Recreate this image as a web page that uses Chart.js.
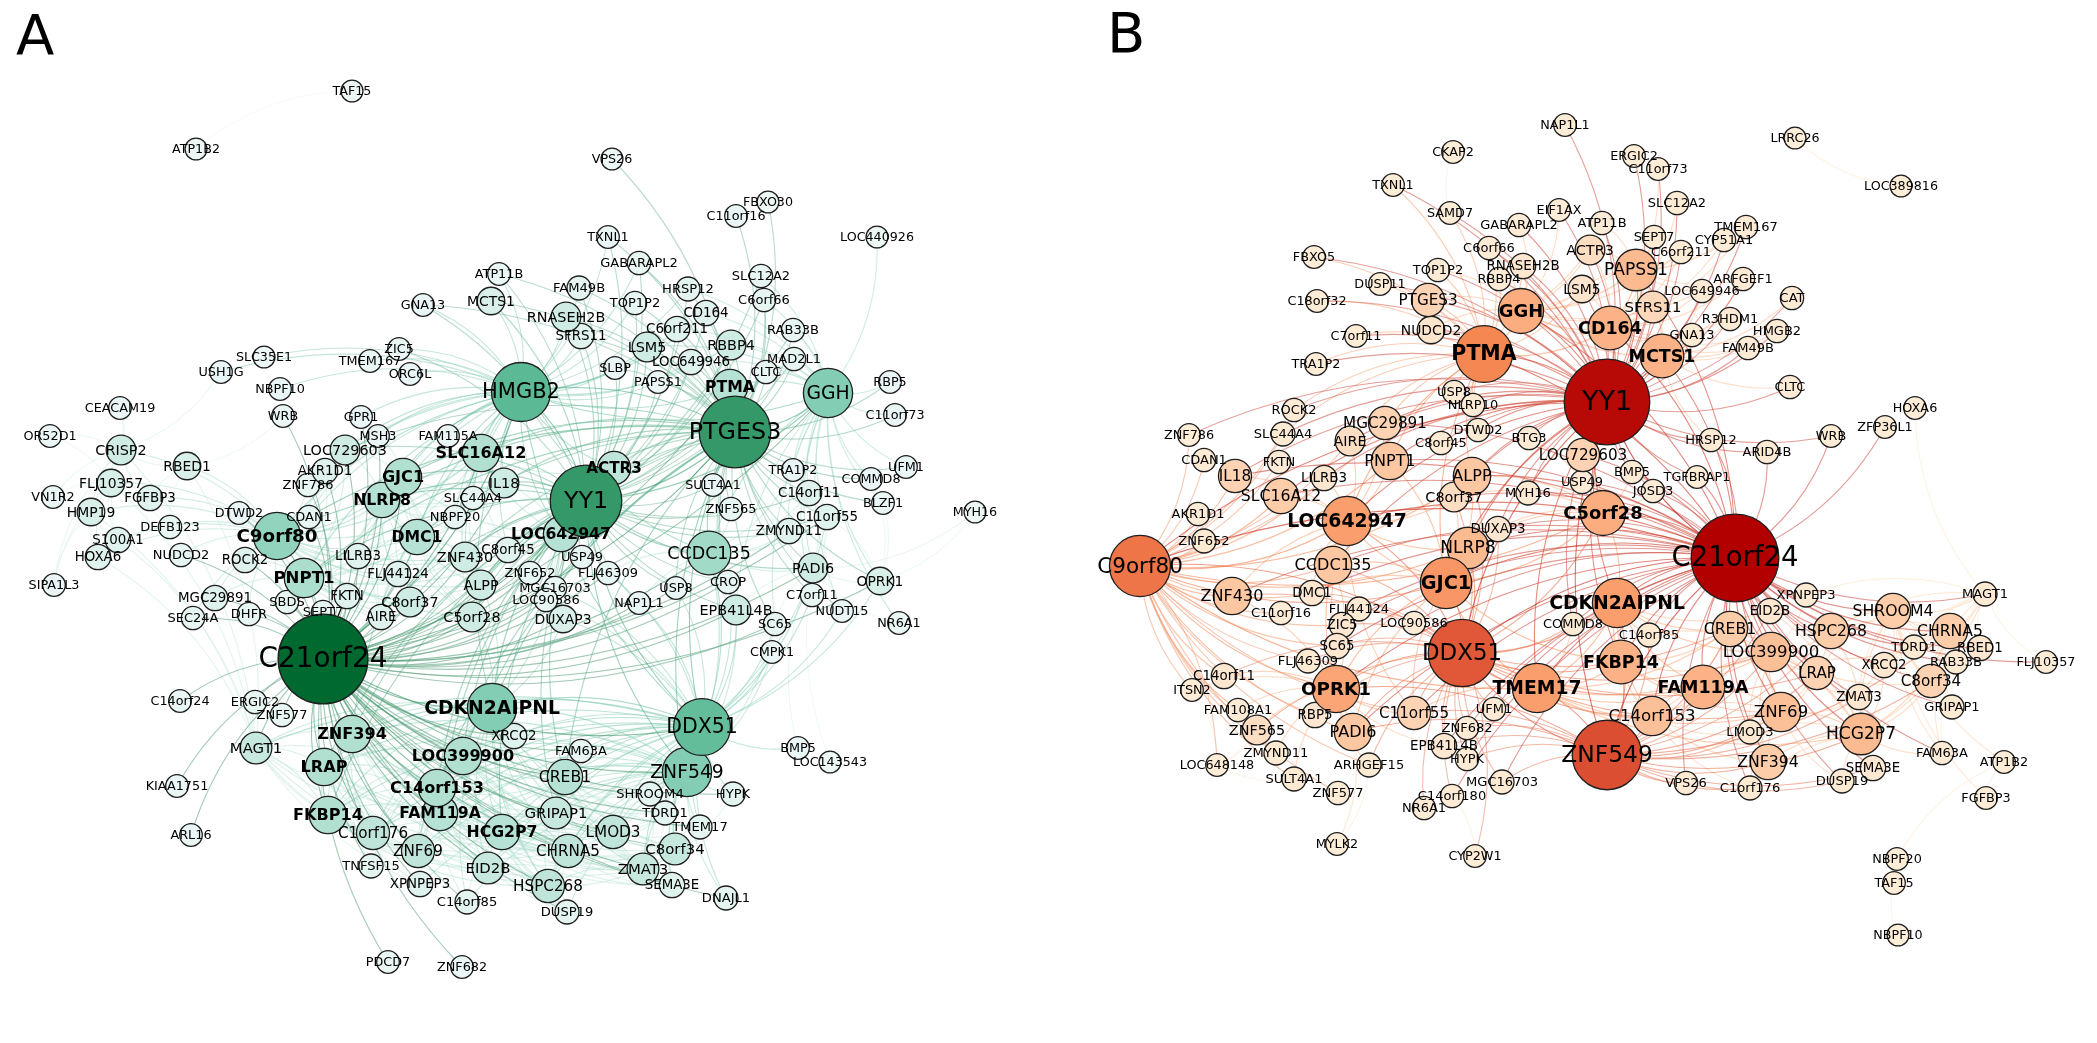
<!DOCTYPE html>
<html>
<head>
<meta charset="utf-8">
<title>Co-expression networks A / B</title>
<script src="https://cdn.jsdelivr.net/npm/chart.js@4.4.1/dist/chart.umd.min.js"></script>
<style>
  html, body { margin: 0; padding: 0; background: #fff; }
  #wrap { position: relative; width: 2097px; height: 1043px; }
</style>
</head>
<body>
<div id="wrap"><canvas id="net"></canvas></div>
<script>
// layout rows: [gene, x, y, degree]  (x/y in layout units of the figure)
const nodesA = [
  ['TAF15',352,91,1], ['ATP1B2',196,149,1], ['ATP11B',499,274,2], ['MCTS1',491,301,9],
  ['GNA13',423,305,2], ['ZIC5',399,349,2], ['TMEM167',370,361,2], ['ORC6L',410,374,2],
  ['SLC35E1',264,357,1], ['USH1G',221,372,2], ['NBPF10',280,389,2], ['VPS26',612,159,1],
  ['FBXO30',768,202,1], ['C11orf16',736,216,2], ['LOC440926',877,237,1], ['TXNL1',608,237,2],
  ['GABARAPL2',639,263,3], ['SLC12A2',761,276,3], ['FAM49B',579,288,4], ['HRSP12',688,289,4],
  ['C6orf66',764,300,3], ['TOP1P2',635,303,3], ['CD164',706,313,6], ['RNASEH2B',566,317,12],
  ['C6orf211',677,329,6], ['RAB33B',793,330,3], ['SFRS11',581,336,6], ['LSM5',647,347,12],
  ['RBBP4',731,345,12], ['MAD2L1',794,359,3], ['LOC649946',691,362,6], ['SLBP',615,368,2],
  ['CLTC',766,372,3], ['PAPSS1',658,382,2], ['PTMA',730,387,20], ['GGH',828,393,40],
  ['RBP5',890,382,2], ['C11orf73',895,415,2], ['PTGES3',735,432,72], ['HMGB2',521,392,54],
  ['ACTR3',614,468,17], ['YY1',586,501,72], ['TRA1P2',793,470,2], ['UFM1',906,467,2],
  ['COMMD8',871,479,2], ['SULT4A1',713,485,2], ['C14orf11',809,493,6], ['BLZF1',883,503,2],
  ['MYH16',975,512,1], ['ZNF565',731,509,3], ['C11orf55',827,517,6], ['ZMYND11',789,531,6],
  ['LOC642947',561,534,20], ['CCDC135',709,553,32], ['C8orf45',508,550,6], ['USP49',582,557,3],
  ['ZNF652',530,573,3], ['FLJ46309',608,573,3], ['PADI6',813,568,12], ['OPRK1',880,581,9],
  ['CROP',728,582,3], ['USP8',676,588,2], ['MGC16703',555,588,3], ['C7orf11',812,595,3],
  ['LOC90586',546,600,3], ['NAP1L1',639,603,2], ['EPB41L4B',736,610,12], ['NUDT15',842,611,2],
  ['DUXAP3',563,619,9], ['SC65',775,624,3], ['NR6A1',899,623,2], ['CMPK1',772,652,2],
  ['DDX51',702,727,51], ['XRCC2',514,736,6], ['FAM63A',581,751,3], ['BMP5',798,748,2],
  ['LOC143543',830,762,1], ['ZNF549',687,772,40], ['CREB1',565,777,20], ['CEACAM19',120,408,2],
  ['WRB',283,416,2], ['GPR1',361,417,2], ['OR52D1',50,436,2], ['MSH3',378,436,2],
  ['FAM115A',448,436,2], ['CRISP2',121,450,12], ['LOC729603',345,450,12], ['SLC16A12',481,453,23],
  ['RBED1',187,466,9], ['AKR1D1',325,471,6], ['GJC1',403,477,23], ['FLJ10357',111,483,9],
  ['IL18',504,483,12], ['ZNF786',308,485,3], ['VN1R2',53,497,2], ['FGFBP3',150,498,6],
  ['NLRP8',382,500,20], ['SLC44A4',473,498,3], ['HMP19',91,512,9], ['DTWD2',239,513,2],
  ['CDAN1',309,517,3], ['NBPF20',455,517,3], ['DEFB123',170,527,3], ['C9orf80',277,536,37],
  ['DMC1',417,537,20], ['S100A1',118,540,6], ['NUDCD2',181,555,3], ['ROCK2',245,560,6],
  ['LILRB3',358,556,6], ['ZNF430',465,557,12], ['HOXA6',98,557,6], ['PNPT1',304,578,26],
  ['FLJ44124',398,574,6], ['SIPA1L3',54,585,2], ['ALPP',481,585,12], ['FKTN',347,596,6],
  ['MGC29891',215,598,6], ['SBDS',287,602,3], ['C8orf37',410,602,12], ['SEPT7',323,612,3],
  ['DHFR',249,614,3], ['AIRE',381,617,6], ['C5orf28',472,617,12], ['SEC24A',193,618,3],
  ['C21orf24',323,659,98], ['C14orf24',180,701,2], ['ERGIC2',255,702,3], ['ZNF577',282,715,3],
  ['CDKN2AIPNL',492,708,40], ['ZNF394',352,734,23], ['MAGT1',256,748,15], ['LOC399900',463,756,23],
  ['LRAP',324,767,23], ['KIAA1751',177,786,2], ['C14orf153',437,788,23], ['SHROOM4',650,794,4],
  ['HYPK',733,794,4], ['FKBP14',328,815,23], ['FAM119A',440,813,20], ['GRIPAP1',556,813,15],
  ['TDRD1',665,813,4], ['C1orf176',373,833,17], ['HCG2P7',502,832,20], ['LMOD3',613,832,17],
  ['TMEM17',700,827,4], ['ARL16',191,835,2], ['C8orf34',675,849,15], ['CHRNA5',568,851,17],
  ['ZNF69',418,851,17], ['TNFSF15',371,866,4], ['EID2B',488,868,15], ['ZMAT3',643,869,15],
  ['XPNPEP3',420,884,6], ['HSPC268',548,886,17], ['SEMA3E',672,885,6], ['DNAJL1',726,898,4],
  ['C14orf85',467,902,4], ['DUSP19',567,912,4], ['PDCD7',388,962,2], ['ZNF682',462,967,2]
];

const nodesB = [
  ['NAP1L1',1565,125,2], ['CKAP2',1453,152,2], ['TXNL1',1393,185,2], ['SAMD7',1450,213,2],
  ['EIF1AX',1559,210,2], ['GABARAPL2',1519,225,3], ['ATP11B',1602,223,3], ['C6orf66',1489,248,3],
  ['ACTR3',1590,250,12], ['FBXO5',1314,257,2], ['RNASEH2B',1523,266,6], ['TOP1P2',1438,270,3],
  ['RBBP4',1499,279,3], ['DUSP11',1380,284,2], ['LSM5',1582,289,9], ['C18orf32',1317,301,2],
  ['PTGES3',1428,300,17], ['GGH',1521,311,34], ['CD164',1610,328,32], ['NUDCD2',1431,330,9],
  ['C7orf11',1356,336,2], ['PTMA',1484,354,51], ['TRA1P2',1316,364,2], ['YY1',1607,402,92],
  ['USP8',1454,392,3], ['NLRP10',1473,405,3], ['ROCK2',1294,410,3], ['MGC29891',1385,423,17],
  ['DTWD2',1478,430,3], ['ZNF786',1189,435,2], ['SLC44A4',1283,434,4], ['AIRE',1350,441,12],
  ['BTG3',1529,438,3], ['C8orf45',1441,443,3], ['LRRC26',1795,138,1], ['ERGIC2',1634,156,2],
  ['C11orf73',1658,169,2], ['LOC389816',1901,186,1], ['SLC12A2',1677,203,3], ['TMEM167',1746,227,3],
  ['SEPT7',1654,237,3], ['CYP51A1',1724,240,3], ['C6orf211',1681,252,3], ['PAPSS1',1636,270,29],
  ['ARFGEF1',1743,279,3], ['LOC649946',1702,291,3], ['CAT',1792,298,3], ['SFRS11',1653,307,15],
  ['R3HDM1',1730,319,3], ['HMGB2',1777,331,3], ['GNA13',1692,335,3], ['FAM49B',1748,348,3],
  ['MCTS1',1662,356,32], ['CLTC',1790,387,3], ['HOXA6',1915,408,2], ['ZFP36L1',1885,427,2],
  ['WRB',1831,436,2], ['HRSP12',1711,440,3], ['CDAN1',1204,460,3], ['FKTN',1279,462,3],
  ['PNPT1',1390,461,23], ['LOC729603',1583,455,17], ['IL18',1235,476,17], ['ALPP',1472,476,23],
  ['LILRB3',1324,478,6], ['USP49',1582,482,3], ['MYH16',1528,493,4], ['SLC16A12',1281,496,20],
  ['C8orf37',1454,497,12], ['C5orf28',1603,513,34], ['AKR1D1',1198,514,3], ['LOC642947',1347,521,40],
  ['DUXAP3',1498,529,6], ['ZNF652',1204,541,4], ['NLRP8',1468,548,29], ['C9orf80',1140,566,57],
  ['CCDC135',1333,565,23], ['GJC1',1446,583,43], ['ZNF430',1232,596,23], ['DMC1',1312,593,6],
  ['CDKN2AIPNL',1617,603,40], ['C11orf16',1281,613,3], ['FLJ44124',1359,609,4], ['ZIC5',1342,625,6],
  ['LOC90586',1414,623,3], ['COMMD8',1573,624,3], ['DDX51',1462,653,66], ['SC65',1337,646,6],
  ['FKBP14',1621,662,32], ['FLJ46309',1308,661,4], ['C14orf11',1224,676,6], ['ITSN2',1192,690,2],
  ['OPRK1',1336,689,37], ['TMEM17',1537,688,40], ['FAM108A1',1238,710,3], ['UFM1',1494,709,3],
  ['RBP5',1315,715,6], ['C11orf55',1414,713,17], ['ZNF682',1467,728,3], ['ZNF565',1257,730,12],
  ['PADI6',1353,732,23], ['ZNF549',1607,755,69], ['ARID4B',1767,452,3], ['BMP5',1632,472,3],
  ['TGFBRAP1',1697,477,2], ['JOSD3',1653,491,3], ['C21orf24',1735,558,95], ['XPNPEP3',1806,595,4],
  ['MAGT1',1985,594,4], ['EID2B',1770,611,6], ['SHROOM4',1893,611,20], ['CREB1',1730,629,20],
  ['HSPC268',1831,631,20], ['CHRNA5',1950,631,20], ['C14orf85',1649,635,4], ['TDRD1',1914,647,4],
  ['RBED1',1980,648,6], ['LOC399900',1771,652,26], ['FLJ10357',2046,662,2], ['RAB33B',1956,662,4],
  ['XRCC2',1884,665,6], ['LRAP',1817,673,17], ['C8orf34',1931,681,17], ['FAM119A',1703,687,32],
  ['ZMAT3',1859,697,6], ['GRIPAP1',1952,707,4], ['C14orf153',1652,716,26], ['ZNF69',1781,712,26],
  ['LMOD3',1750,732,4], ['HCG2P7',1861,734,29], ['EPB41L4B',1444,746,6], ['ZMYND11',1276,753,4],
  ['HYPK',1467,759,3], ['LOC648148',1217,765,2], ['ARHGEF15',1369,765,4], ['SULT4A1',1294,779,4],
  ['MGC16703',1502,782,4], ['ZNF577',1338,793,3], ['C14orf180',1452,796,3], ['NR6A1',1424,808,3],
  ['MYLK2',1337,844,2], ['CYP2W1',1475,856,2], ['FAM63A',1942,753,3], ['ZNF394',1768,762,20],
  ['ATP1B2',2004,762,2], ['SEMA3E',1873,768,6], ['DUSP19',1842,781,4], ['VPS26',1686,783,3],
  ['C1orf176',1750,788,4], ['FGFBP3',1986,798,2], ['NBPF20',1897,859,2], ['TAF15',1894,883,2],
  ['NBPF10',1898,935,1]
];

// edges: [gene, neighbours]
const edgesA = [
  ['TAF15','ATP1B2'],
  ['C21orf24','ZNF394 LRAP MAGT1 FKBP14 C1orf176 ZNF69 TNFSF15 XPNPEP3 C14orf153 FAM119A LOC399900 CDKN2AIPNL HCG2P7 EID2B C14orf85 CREB1 GRIPAP1 CHRNA5 HSPC268 DUSP19 LMOD3 ZMAT3 SEMA3E C8orf34 TDRD1 SHROOM4 ZNF549 DDX51 TMEM17 HYPK DNAJL1 FAM63A XRCC2 PDCD7 ZNF682 KIAA1751 ARL16 C14orf24 ERGIC2 ZNF577 C9orf80 PNPT1 ROCK2 MGC29891 SEC24A DHFR SBDS SEPT7 FKTN AIRE LILRB3 CDAN1 ZNF786 AKR1D1 LOC729603 NLRP8 GJC1 DMC1 FLJ44124 C8orf37 C5orf28 ALPP ZNF430 DUXAP3 LOC90586 MGC16703 ZNF652 C8orf45 LOC642947 YY1 PTGES3 HMGB2 IL18 SLC16A12 CCDC135 EPB41L4B NAP1L1 USP49 FLJ46309 ACTR3 GGH PTMA SC65 CROP USP8 DTWD2 NUDCD2 WRB GPR1 MSH3 OPRK1 PADI6 C11orf55 ZMYND11'],
  ['YY1','PTGES3 HMGB2 ACTR3 PTMA GGH LSM5 RBBP4 RNASEH2B CD164 C6orf211 LOC649946 SFRS11 PAPSS1 SLBP TOP1P2 FAM49B HRSP12 GABARAPL2 MCTS1 ATP11B TXNL1 C6orf66 SLC12A2 CLTC MAD2L1 RAB33B LOC642947 SLC16A12 IL18 GJC1 NLRP8 DMC1 C8orf45 ZNF652 USP49 FLJ46309 MGC16703 LOC90586 DUXAP3 CCDC135 DDX51 ZNF549 CDKN2AIPNL LOC399900 CREB1 C14orf153 FAM119A FKBP14 LRAP ZNF394 HCG2P7 GRIPAP1 C9orf80 PNPT1 LOC729603 ALPP C5orf28 ZNF430 C8orf37 AIRE EPB41L4B USP8 CROP NAP1L1 SULT4A1 ZNF565 PADI6 C14orf11 ZMYND11 C11orf55 GNA13 ZIC5'],
  ['PTGES3','PTMA GGH RBBP4 LSM5 CD164 C6orf211 LOC649946 HRSP12 C6orf66 SLC12A2 RAB33B MAD2L1 CLTC PAPSS1 SLBP TOP1P2 GABARAPL2 RNASEH2B SFRS11 FAM49B HMGB2 ACTR3 C11orf16 VPS26 FBXO30 TRA1P2 UFM1 COMMD8 C14orf11 C11orf55 ZMYND11 BLZF1 SULT4A1 ZNF565 CCDC135 PADI6 C7orf11 EPB41L4B SC65 CROP USP8 NUDT15 OPRK1 C11orf73 RBP5 DDX51 ZNF549 CDKN2AIPNL LOC642947 SLC16A12 IL18 GJC1 NLRP8 DMC1 C9orf80 PNPT1 LOC729603 ZNF430 ALPP C5orf28 MCTS1 ATP11B TXNL1 GNA13 CREB1 LOC399900 C14orf153'],
  ['HMGB2','RNASEH2B SFRS11 FAM49B LSM5 TOP1P2 GABARAPL2 TXNL1 MCTS1 ATP11B GNA13 TMEM167 ZIC5 ORC6L SLC35E1 NBPF10 USH1G SLC16A12 GJC1 NLRP8 LOC729603 AKR1D1 MSH3 GPR1 FAM115A IL18 SLC44A4 NBPF20 ZNF430 DMC1 C9orf80 PNPT1 LILRB3 ZNF786 CDAN1 C8orf45 LOC642947 ACTR3 PTMA RBBP4 CD164 C6orf211 LOC649946 SLBP PAPSS1 HRSP12 GGH CCDC135 DDX51 CDKN2AIPNL ZNF394'],
  ['DDX51','ZNF549 CDKN2AIPNL CCDC135 EPB41L4B SC65 CMPK1 CROP USP8 NAP1L1 FLJ46309 DUXAP3 LOC90586 MGC16703 XRCC2 FAM63A CREB1 LOC399900 C14orf153 FAM119A HCG2P7 GRIPAP1 SHROOM4 TDRD1 TMEM17 HYPK C8orf34 LMOD3 CHRNA5 ZMAT3 HSPC268 SEMA3E DNAJL1 ZNF394 LRAP FKBP14 MAGT1 C1orf176 ZNF69 EID2B PADI6 C7orf11 NUDT15 OPRK1 BMP5 C11orf55'],
  ['ZNF549','CDKN2AIPNL CREB1 LOC399900 C14orf153 FAM119A HCG2P7 GRIPAP1 SHROOM4 TDRD1 TMEM17 HYPK C8orf34 LMOD3 CHRNA5 ZMAT3 HSPC268 SEMA3E DNAJL1 DUSP19 EID2B C14orf85 ZNF69 XPNPEP3 C1orf176 LRAP ZNF394 FAM63A XRCC2 CCDC135 EPB41L4B SC65 CMPK1'],
  ['CDKN2AIPNL','ZNF394 LRAP MAGT1 FKBP14 C1orf176 ZNF69 LOC399900 C14orf153 FAM119A HCG2P7 CREB1 GRIPAP1 CHRNA5 HSPC268 LMOD3 EID2B XRCC2 FAM63A XPNPEP3 TNFSF15 C14orf85 DUSP19 ZMAT3 C8orf34 LOC642947 DUXAP3 C5orf28 ALPP'],
  ['GGH','PTMA RBBP4 CD164 C6orf211 LOC649946 CLTC MAD2L1 RAB33B C6orf66 SLC12A2 RBP5 C11orf73 LOC440926 UFM1 COMMD8 BLZF1 C11orf55 C14orf11 PADI6 OPRK1 NR6A1 NUDT15 C7orf11 ZMYND11 TRA1P2 CCDC135 EPB41L4B SC65 HRSP12 LSM5'],
  ['LOC399900','C14orf153 FAM119A HCG2P7 CREB1 GRIPAP1 CHRNA5 HSPC268 LMOD3 ZMAT3 C8orf34 EID2B ZNF69 C1orf176 FKBP14 LRAP ZNF394 SHROOM4 TDRD1 SEMA3E DUSP19'],
  ['C14orf153','FAM119A HCG2P7 CREB1 GRIPAP1 CHRNA5 HSPC268 LMOD3 ZMAT3 C8orf34 EID2B ZNF69 C1orf176 FKBP14 LRAP ZNF394 MAGT1 XPNPEP3 C14orf85'],
  ['FAM119A','HCG2P7 CREB1 GRIPAP1 CHRNA5 HSPC268 LMOD3 ZMAT3 C8orf34 EID2B ZNF69 C1orf176 FKBP14 LRAP ZNF394 SEMA3E DUSP19'],
  ['HCG2P7','CREB1 GRIPAP1 CHRNA5 HSPC268 LMOD3 ZMAT3 C8orf34 EID2B ZNF69 C1orf176 TDRD1 SHROOM4 SEMA3E DUSP19 C14orf85'],
  ['CREB1','GRIPAP1 CHRNA5 HSPC268 LMOD3 ZMAT3 C8orf34 TDRD1 SHROOM4 TMEM17 SEMA3E'],
  ['ZNF394','LRAP FKBP14 MAGT1 C1orf176 ZNF69 TNFSF15 EID2B CHRNA5 HSPC268 LMOD3 GRIPAP1'],
  ['LRAP','FKBP14 MAGT1 C1orf176 ZNF69 XPNPEP3 EID2B HSPC268 CHRNA5 GRIPAP1 LMOD3'],
  ['FKBP14','C1orf176 ZNF69 MAGT1 EID2B HSPC268 CHRNA5 ZMAT3 C8orf34'],
  ['CHRNA5','HSPC268 LMOD3 ZMAT3 C8orf34 GRIPAP1 SEMA3E DUSP19 EID2B TDRD1 SHROOM4'],
  ['LMOD3','ZMAT3 C8orf34 HSPC268 GRIPAP1 SHROOM4 TDRD1 TMEM17 SEMA3E'],
  ['ZMAT3','C8orf34 SEMA3E HSPC268 GRIPAP1 TDRD1 SHROOM4 TMEM17 HYPK'],
  ['HSPC268','EID2B GRIPAP1 ZNF69 C8orf34 DUSP19'],
  ['MAGT1','CRISP2 FLJ10357 HMP19 RBED1 S100A1 HOXA6 C1orf176 ZNF69 C14orf85 CHRNA5 HSPC268 GRIPAP1'],
  ['C9orf80','PNPT1 NLRP8 GJC1 DMC1 LOC729603 AKR1D1 ZNF786 CDAN1 DTWD2 ROCK2 LILRB3 FLJ44124 FKTN MGC29891 SBDS DHFR SEC24A NUDCD2 DEFB123 S100A1 HOXA6 HMP19 FGFBP3 RBED1 CRISP2 FLJ10357 ZNF430 C8orf37 AIRE ALPP C5orf28 IL18 SLC16A12 LOC642947'],
  ['PNPT1','NLRP8 GJC1 DMC1 LOC729603 AKR1D1 LILRB3 FLJ44124 FKTN C8orf37 AIRE ZNF430 ALPP C5orf28 SLC16A12 IL18 LOC642947 ROCK2 MGC29891'],
  ['NLRP8','GJC1 DMC1 LOC729603 SLC16A12 IL18 ZNF430 ALPP C8orf37 AIRE FLJ44124 LILRB3 C5orf28 LOC642947 SLC44A4 NBPF20'],
  ['GJC1','DMC1 SLC16A12 IL18 LOC729603 ZNF430 ALPP C8orf37 AIRE C5orf28 LOC642947 FAM115A MSH3'],
  ['DMC1','SLC16A12 IL18 ZNF430 ALPP C8orf37 AIRE C5orf28 LOC642947 FLJ44124 LILRB3'],
  ['SLC16A12','IL18 ZNF430 ALPP LOC642947 C8orf45 C5orf28 ACTR3'],
  ['LOC642947','IL18 ZNF430 ALPP C5orf28 C8orf45 ZNF652 USP49 DUXAP3 MGC16703 LOC90586 ACTR3'],
  ['CCDC135','EPB41L4B SC65 CROP USP8 ZNF565 SULT4A1 PADI6 C14orf11 ZMYND11 C11orf55 NAP1L1 FLJ46309 TRA1P2'],
  ['PADI6','OPRK1 C11orf55 C14orf11 ZMYND11 C7orf11 NUDT15 SC65 EPB41L4B MYH16 NR6A1 BMP5'],
  ['OPRK1','MYH16 NR6A1 NUDT15 C11orf55 COMMD8 BLZF1'],
  ['C11orf55','C14orf11 ZMYND11 LOC143543 NUDT15'],
  ['CRISP2','CEACAM19 OR52D1 FLJ10357 VN1R2 HMP19 RBED1 FGFBP3 DEFB123 S100A1 HOXA6 SIPA1L3 USH1G'],
  ['FLJ10357','VN1R2 HMP19 HOXA6 S100A1 SIPA1L3 FGFBP3 OR52D1 CEACAM19'],
  ['HMP19','S100A1 HOXA6 SIPA1L3 VN1R2'],
  ['RBED1','FGFBP3 DEFB123 WRB']
];

const edgesB = [
  ['LRRC26','LOC389816'], ['TAF15','NBPF10 NBPF20'], ['ATP1B2','NBPF20 FGFBP3'],
  ['CKAP2','SAMD7'], ['MYLK2','ARHGEF15 PADI6'], ['CYP2W1','C14orf180 DDX51'], ['HOXA6','ZFP36L1 MAGT1'],
  ['LOC648148','ZNF565 SULT4A1 C9orf80 ITSN2'],
  ['YY1','PTMA GGH CD164 MCTS1 PAPSS1 SFRS11 LSM5 ACTR3 RNASEH2B RBBP4 TOP1P2 C6orf66 GABARAPL2 ATP11B EIF1AX NAP1L1 SAMD7 TXNL1 FBXO5 DUSP11 C18orf32 C7orf11 TRA1P2 PTGES3 NUDCD2 USP8 NLRP10 DTWD2 BTG3 C8orf45 MGC29891 AIRE PNPT1 ALPP C8orf37 LOC729603 USP49 MYH16 DUXAP3 NLRP8 GJC1 LOC642947 SLC16A12 IL18 C5orf28 DDX51 C21orf24 CDKN2AIPNL ERGIC2 C11orf73 SLC12A2 SEPT7 C6orf211 CYP51A1 TMEM167 ARFGEF1 LOC649946 R3HDM1 GNA13 FAM49B HMGB2 CAT CLTC WRB HRSP12 ARID4B JOSD3 BMP5 TGFBRAP1 COMMD8 FKBP14 TMEM17 ZNF549 C9orf80 ROCK2 SLC44A4 CCDC135 LILRB3 ZNF786'],
  ['C21orf24','CDKN2AIPNL FKBP14 C14orf85 CREB1 EID2B XPNPEP3 LOC399900 FAM119A C14orf153 ZNF69 LRAP HSPC268 SHROOM4 CHRNA5 MAGT1 TDRD1 RBED1 XRCC2 RAB33B C8orf34 ZMAT3 GRIPAP1 HCG2P7 LMOD3 ZNF394 C1orf176 DUSP19 SEMA3E FAM63A VPS26 ZNF549 DDX51 TMEM17 GJC1 NLRP8 C5orf28 BMP5 JOSD3 TGFBRAP1 ARID4B HRSP12 WRB ZFP36L1 USP49 LOC729603 MYH16 DUXAP3 ALPP LOC642947 CCDC135 C9orf80 OPRK1 COMMD8 ZNF430 SLC16A12 PNPT1 IL18 MGC29891 C8orf37 LOC90586 FLJ44124 DMC1 ZIC5 SC65 PADI6 C11orf55 UFM1 MGC16703 ZNF682 EPB41L4B HYPK C14orf180 CD164 MCTS1 PAPSS1 GGH PTMA FLJ10357'],
  ['DDX51','GJC1 NLRP8 CDKN2AIPNL FKBP14 TMEM17 ZNF549 C14orf153 FAM119A OPRK1 C11orf55 PADI6 UFM1 ZNF682 EPB41L4B HYPK MGC16703 C14orf180 NR6A1 ARHGEF15 LOC90586 FLJ44124 ZIC5 SC65 DMC1 CCDC135 LOC642947 ALPP C8orf37 DUXAP3 C9orf80 ZNF430 RBP5 ZNF565 FLJ46309 C14orf11 COMMD8 C5orf28 LOC399900 CREB1 ZNF69 LRAP'],
  ['ZNF549','TMEM17 FKBP14 C14orf153 FAM119A CDKN2AIPNL LOC399900 CREB1 ZNF69 LRAP ZNF394 LMOD3 C1orf176 HCG2P7 HSPC268 CHRNA5 C8orf34 ZMAT3 DUSP19 SEMA3E VPS26 TNFSF15 MGC16703 HYPK C11orf55 PADI6 OPRK1 EPB41L4B ZNF682 C14orf85 EID2B'],
  ['C9orf80','ZNF786 CDAN1 AKR1D1 ZNF652 IL18 SLC16A12 ZNF430 C14orf11 ITSN2 FAM108A1 ZNF565 SULT4A1 ZMYND11 OPRK1 RBP5 PADI6 C11orf16 DMC1 CCDC135 LOC642947 FKTN SLC44A4 ROCK2 LILRB3 MGC29891 AIRE PNPT1 ALPP GJC1 NLRP8 DDX51 FLJ46309 SC65 ZIC5 C11orf55 ZNF577 ARHGEF15 TMEM17 C5orf28'],
  ['PTMA','GGH PTGES3 NUDCD2 TOP1P2 RBBP4 C6orf66 RNASEH2B LSM5 DUSP11 C18orf32 FBXO5 C7orf11 TRA1P2 USP8 NLRP10 MGC29891 DTWD2 ROCK2 SLC44A4 AIRE PNPT1 LOC642947 ALPP GJC1 CD164 SAMD7 TXNL1'],
  ['LOC642947','CCDC135 SLC16A12 IL18 ZNF430 PNPT1 AIRE LILRB3 ALPP NLRP8 GJC1 DMC1 C8orf37 MGC29891 OPRK1 PADI6 C11orf55'],
  ['GJC1','NLRP8 ALPP C8orf37 PNPT1 CCDC135 DMC1 OPRK1 C11orf55 PADI6 TMEM17 FKBP14 C5orf28'],
  ['OPRK1','PADI6 ZNF565 C11orf55 RBP5 C14orf11 ZNF430 CCDC135 FAM108A1 ITSN2 ZMYND11 SULT4A1 ARHGEF15 EPB41L4B'],
  ['TMEM17','FKBP14 FAM119A C14orf153 CDKN2AIPNL COMMD8 UFM1 C11orf55 LOC399900 CREB1 HCG2P7 ZNF69'],
  ['CDKN2AIPNL','FKBP14 C5orf28 C14orf85 CREB1 LOC399900 FAM119A C14orf153 EID2B'],
  ['FKBP14','FAM119A C14orf153 CREB1 LOC399900 ZNF69 C14orf85'],
  ['GGH','CD164 MCTS1 PAPSS1 SFRS11 LSM5 ACTR3 RNASEH2B RBBP4 C6orf66 GABARAPL2 TOP1P2 PTGES3 NUDCD2 EIF1AX ATP11B SEPT7 C6orf211 LOC649946 GNA13'],
  ['CD164','MCTS1 PAPSS1 SFRS11 LSM5 ACTR3 SEPT7 C6orf211 LOC649946 GNA13 R3HDM1 FAM49B HMGB2 ARFGEF1 CYP51A1 TMEM167 SLC12A2 C11orf73'],
  ['MCTS1','PAPSS1 SFRS11 GNA13 R3HDM1 FAM49B HMGB2 CLTC CAT HRSP12 ARFGEF1 LOC649946'],
  ['PAPSS1','SFRS11 SEPT7 C6orf211 CYP51A1 TMEM167 ARFGEF1 LOC649946 ACTR3 LSM5 ATP11B'],
  ['C5orf28','LOC729603 USP49 BTG3 JOSD3 BMP5 DUXAP3 NLRP8 ALPP C8orf37'],
  ['SHROOM4','CHRNA5 HSPC268 TDRD1 RBED1 MAGT1 XRCC2 RAB33B C8orf34 GRIPAP1 ZMAT3 HCG2P7 LRAP FAM63A ATP1B2 FGFBP3'],
  ['HCG2P7','HSPC268 LRAP ZMAT3 C8orf34 XRCC2 LOC399900 ZNF69 CREB1 EID2B SEMA3E DUSP19 ZNF394 FAM63A MAGT1 CHRNA5 LMOD3 C1orf176'],
  ['LOC399900','CREB1 HSPC268 LRAP ZNF69 EID2B XPNPEP3 FAM119A C14orf153 C14orf85 LMOD3 ZNF394 ZMAT3 CHRNA5 C8orf34'],
  ['CHRNA5','C8orf34 RBED1 MAGT1 TDRD1 RAB33B GRIPAP1 XRCC2 HSPC268 ZMAT3 FAM63A'],
  ['ZNF69','LRAP ZNF394 LMOD3 C1orf176 HSPC268 CREB1 ZMAT3 FAM119A C14orf153 DUSP19'],
  ['C14orf153','FAM119A CREB1 ZNF394 C1orf176 LMOD3'],
  ['MAGT1','RBED1 FLJ10357 TDRD1 RAB33B XRCC2 C8orf34 GRIPAP1 ZMAT3 FAM63A HSPC268 XPNPEP3']
];

const boldA = ['C9orf80','PNPT1','NLRP8','DMC1','GJC1','SLC16A12','LOC642947','PTMA','ACTR3','ZNF394','LRAP','FKBP14','FAM119A','C14orf153','HCG2P7','LOC399900','CDKN2AIPNL'];
const boldB = ['CD164','MCTS1','GGH','PTMA','C5orf28','LOC642947','CDKN2AIPNL','FKBP14','FAM119A','TMEM17','OPRK1','GJC1'];
const panelLetters = [['A', 16, 54], ['B', 1107, 52]];

const W = 2097, H = 1043;
const FONT = '"DejaVu Sans", Verdana, sans-serif';

// colour ramps (degree -> fill)
const rampA = [[0,'#eef8f8'],[0.1,'#d6efe8'],[0.2,'#b7e2d5'],[0.35,'#9ed8c5'],[0.42,'#7ccbb0'],[0.55,'#5cb995'],[0.73,'#35996a'],[1,'#00692f']];
const rampB = [[0,'#fdefd9'],[0.1,'#fde3cb'],[0.2,'#fdcfac'],[0.3,'#fcbb92'],[0.42,'#fa9e6d'],[0.55,'#f4844f'],[0.7,'#df5636'],[1,'#b20000']];

function hexRgb(h) { return [1, 3, 5].map(i => parseInt(h.slice(i, i + 2), 16)); }
function rampColor(ramp, t) {
  t = Math.max(0, Math.min(1, t));
  for (let i = 1; i < ramp.length; i++) {
    if (t <= ramp[i][0]) {
      const a = hexRgb(ramp[i - 1][1]), b = hexRgb(ramp[i][1]);
      const k = (t - ramp[i - 1][0]) / (ramp[i][0] - ramp[i - 1][0]);
      return a.map((v, j) => Math.round(v + (b[j] - v) * k));
    }
  }
  return hexRgb(ramp[ramp.length - 1][1]);
}
const radiusOf = d => 10.6 + 0.35 * d;
const fontOf = d => 12.5 + 0.1575 * d;

function buildPanel(nodes, edgeRows, ramp, bold, alpha) {
  const maxDeg = Math.max(...nodes.map(n => n[3]));
  const byName = {};
  const pts = nodes.map(([name, x, y, deg]) => {
    const p = { x, y, r: radiusOf(deg), name, deg, rgb: rampColor(ramp, deg / maxDeg), bold: bold.includes(name) };
    byName[name] = p;
    return p;
  });
  pts.sort((a, b) => a.deg - b.deg);
  const seen = new Set();
  const edges = [];
  edgeRows.forEach(([src, list]) => {
    list.split(/\s+/).filter(Boolean).forEach(dst => {
      if (!byName[src] || !byName[dst]) { console.warn('missing', src, dst); return; }
      const key = [src, dst].sort().join('|');
      if (src === dst || seen.has(key)) return;
      seen.add(key);
      edges.push([byName[src], byName[dst]]);
    });
  });
  edges.sort((a, b) => (a[0].deg + a[1].deg) - (b[0].deg + b[1].deg));
  return { pts, edges, alpha };
}

const panels = [
  buildPanel(nodesA, edgesA, rampA, boldA, 0.55),
  buildPanel(nodesB, edgesB, rampB, boldB, 0.62)
];

const edgePlugin = {
  id: 'edges',
  beforeDatasetsDraw(chart) {
    const { ctx, scales: { x, y } } = chart;
    ctx.save();
    ctx.lineWidth = 1.1;
    panels.forEach(p => {
      p.edges.forEach(([a, b]) => {
        const x1 = x.getPixelForValue(a.x), y1 = y.getPixelForValue(a.y);
        const x2 = x.getPixelForValue(b.x), y2 = y.getPixelForValue(b.y);
        const dx = x2 - x1, dy = y2 - y1;
        const cx = (x1 + x2) / 2 - dy * 0.18, cy = (y1 + y2) / 2 + dx * 0.18;
        const [hi, lo] = a.deg >= b.deg ? [a, b] : [b, a];
        const c = hi.rgb.map((v, i) => Math.round(v * 0.6 + lo.rgb[i] * 0.4));
        ctx.strokeStyle = `rgba(${c.join(',')},${p.alpha})`;
        ctx.beginPath();
        ctx.moveTo(x1, y1);
        ctx.quadraticCurveTo(cx, cy, x2, y2);
        ctx.stroke();
      });
    });
    ctx.restore();
  }
};

const labelPlugin = {
  id: 'labels',
  afterDatasetsDraw(chart) {
    const ctx = chart.ctx;
    ctx.save();
    ctx.fillStyle = '#000';
    ctx.textAlign = 'center';
    ctx.textBaseline = 'middle';
    chart.data.datasets.forEach((ds, di) => {
      chart.getDatasetMeta(di).data.forEach((el, i) => {
        const p = ds.data[i];
        ctx.font = `${p.bold ? 'bold ' : ''}${fontOf(p.deg).toFixed(1)}px ${FONT}`;
        ctx.fillText(p.name, el.x, el.y + 1);
      });
    });
    ctx.font = `56px ${FONT}`;
    ctx.textAlign = 'left';
    ctx.textBaseline = 'alphabetic';
    panelLetters.forEach(([t, px, py]) => ctx.fillText(t, px, py));
    ctx.restore();
  }
};

const chart = new Chart(document.getElementById('net').getContext('2d'), {
  type: 'bubble',
  data: {
    datasets: panels.map(p => ({
      data: p.pts,
      backgroundColor: p.pts.map(q => `rgb(${q.rgb.join(',')})`),
      borderColor: '#1e1e1e',
      borderWidth: 1.3,
      clip: false
    }))
  },
  options: {
    responsive: true,
    maintainAspectRatio: false,
    animation: false,
    events: [],
    layout: { padding: 0 },
    scales: {
      x: { type: 'linear', min: 0, max: W, display: false },
      y: { type: 'linear', min: 0, max: H, reverse: true, display: false }
    },
    plugins: { legend: { display: false }, tooltip: { enabled: false } }
  },
  plugins: [edgePlugin, labelPlugin]
});

// bubble charts inset the plot area by the largest radius; align the
// scale ranges with that area so layout units equal canvas pixels
const area = chart.chartArea;
chart.options.scales.x.min = area.left;
chart.options.scales.x.max = area.right;
chart.options.scales.y.min = area.top;
chart.options.scales.y.max = area.bottom;
chart.update();
</script>
</body>
</html>
